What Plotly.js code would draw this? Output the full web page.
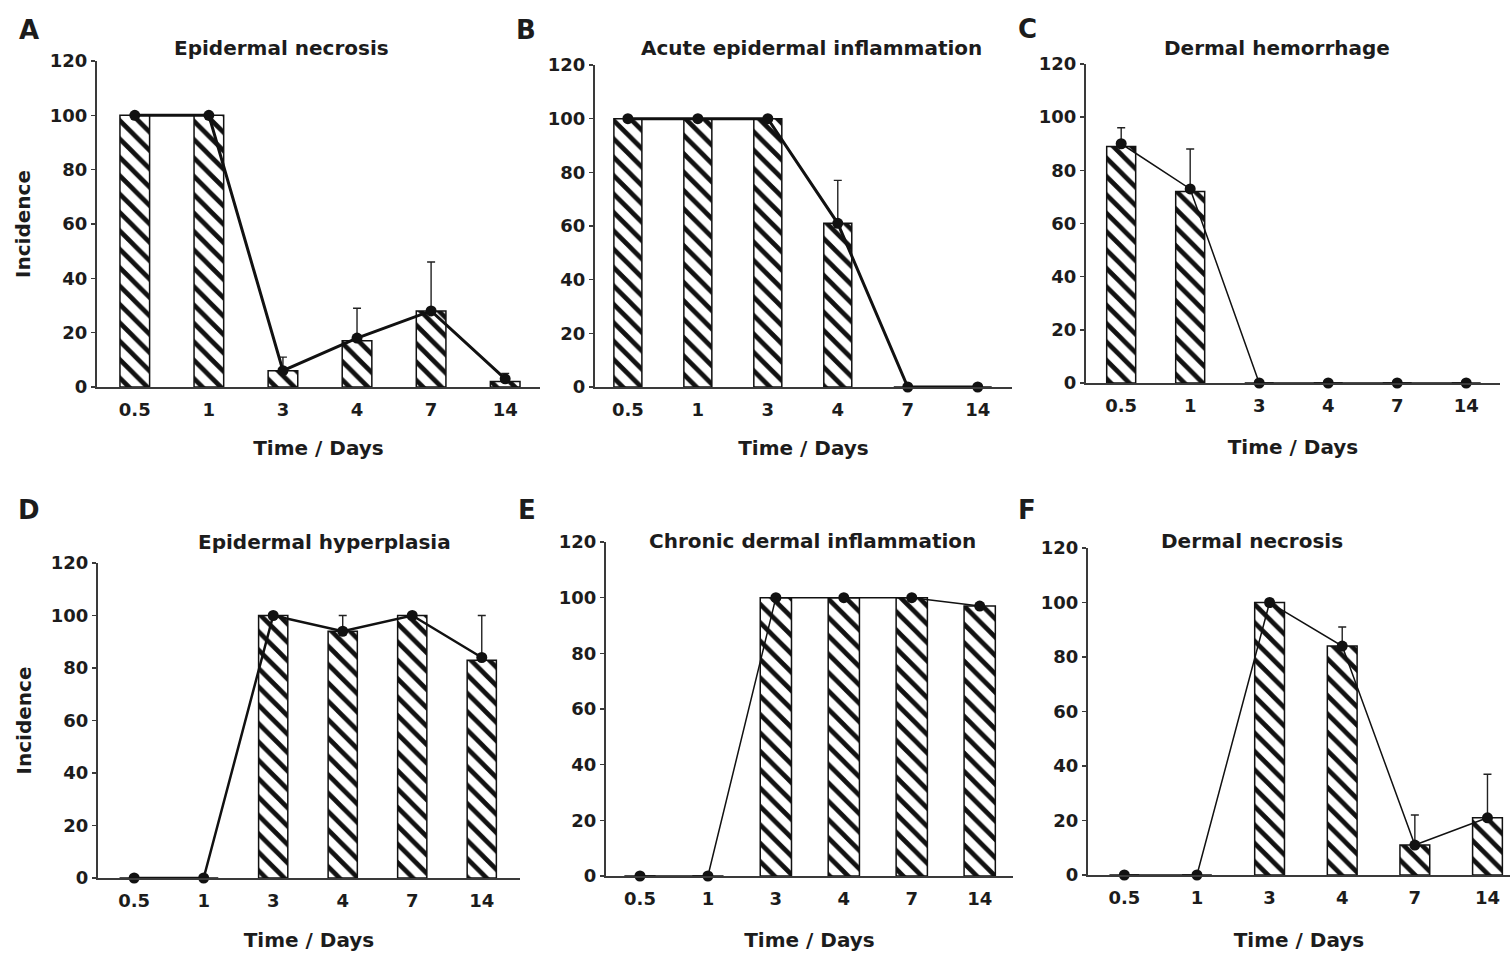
<!DOCTYPE html>
<html>
<head>
<meta charset="utf-8">
<script src="https://cdn.plot.ly/plotly-3.0.1.min.js"></script>
<style>html,body{margin:0;padding:0;background:#fff;}#chart{width:1510px;height:954px;}</style>
</head>
<body>
<div id="chart"></div>
<script>
// ---- data ----
const days = ['0.5', '1', '3', '4', '7', '14'];
const yTicks = [0, 20, 40, 60, 80, 100, 120];

const panelLetters = ['A', 'B', 'C', 'D', 'E', 'F'];
const panelTitles = ['Epidermal necrosis', 'Acute epidermal inflammation', 'Dermal hemorrhage',
                     'Epidermal hyperplasia', 'Chronic dermal inflammation', 'Dermal necrosis'];

const barsA = [100, 100, 6, 17, 28, 2];
const pointsA = [100, 100, 6, 18, 28, 3];
const errA = [0, 0, 5, 11, 18, 2];

const barsB = [100, 100, 100, 61, 0, 0];
const pointsB = [100, 100, 100, 61, 0, 0];
const errB = [0, 0, 0, 16, 0, 0];

const barsC = [89, 72, 0, 0, 0, 0];
const pointsC = [90, 73, 0, 0, 0, 0];
const errC = [6, 15, 0, 0, 0, 0];

const barsD = [0, 0, 100, 94, 100, 83];
const pointsD = [0, 0, 100, 94, 100, 84];
const errD = [0, 0, 0, 6, 0, 16];

const barsE = [0, 0, 100, 100, 100, 97];
const pointsE = [0, 0, 100, 100, 100, 97];
const errE = [0, 0, 0, 0, 0, 0];

const barsF = [0, 0, 100, 84, 11, 21];
const pointsF = [0, 0, 100, 84, 11, 21];
const errF = [0, 0, 0, 7, 11, 16];

const seriesBars = [barsA, barsB, barsC, barsD, barsE, barsF];
const seriesPoints = [pointsA, pointsB, pointsC, pointsD, pointsE, pointsF];
const seriesErr = [errA, errB, errC, errD, errE, errF];

// ---- layout (pixel geometry) ----
const W = 1510, H = 954;
const FONT = 'DejaVu Sans';
const TXT = '#1c1c1c';
// [xLeft, xRight, yTop, yBottom, rangeLo, rangeHi, lineWidth, barWidth, xTitleStandoff]
const geom = [
  [97, 540, 61, 387, -0.51, 5.47, 3, 0.40, 22],
  [595, 1012, 65, 387, -0.47, 5.49, 3, 0.40, 22],
  [1086, 1500, 64, 383, -0.51, 5.49, 1.5, 0.42, 25],
  [98, 520, 563, 878, -0.52, 5.55, 2.5, 0.42, 23],
  [606, 1013, 542, 876, -0.50, 5.49, 1.5, 0.46, 25],
  [1088, 1510, 548, 875, -0.50, 5.31, 1.5, 0.41, 26]
];
const titlePos = [[281, 48], [811, 48], [1277, 48], [324, 542], [812, 541], [1252, 541]];
const letterPos = [[29, 30], [526, 30], [1027, 29], [29, 510], [527, 510], [1027, 510]];

const px = x => x / W;
const py = y => 1 - y / H;

const traces = [];
const layout = {
  width: W, height: H,
  margin: {l: 0, r: 0, t: 0, b: 0},
  paper_bgcolor: '#fff', plot_bgcolor: 'rgba(0,0,0,0)',
  showlegend: false,
  font: {family: FONT, color: TXT, size: 18, weight: 'bold'},
  annotations: [],
  bargap: 0
};

for (let i = 0; i < 6; i++) {
  const g = geom[i];
  const n = i + 1;
  const xa = n === 1 ? 'x' : 'x' + n;
  const ya = n === 1 ? 'y' : 'y' + n;
  traces.push({
    type: 'bar', x: days, y: seriesBars[i], xaxis: xa, yaxis: ya,
    width: g[7],
    marker: {
      color: '#fff',
      line: {color: '#111', width: 1.5},
      pattern: {shape: '\\', fgcolor: '#111', bgcolor: '#fff', size: 13, solidity: 0.36, fillmode: 'replace'}
    },
    hoverinfo: 'skip'
  });
  traces.push({
    type: 'scatter', mode: 'lines+markers', x: days, y: seriesPoints[i], xaxis: xa, yaxis: ya,
    line: {color: '#111', width: g[6]},
    marker: {color: '#111', size: 11},
    error_y: {type: 'data', symmetric: false, array: seriesErr[i], arrayminus: days.map(() => 0),
              color: '#222', thickness: 1.4, width: 4},
    cliponaxis: false,
    hoverinfo: 'skip'
  });
  const xKey = n === 1 ? 'xaxis' : 'xaxis' + n;
  const yKey = n === 1 ? 'yaxis' : 'yaxis' + n;
  layout[xKey] = {
    domain: [px(g[0]), px(g[1])], anchor: ya, type: 'category',
    categoryorder: 'array', categoryarray: days,
    range: [g[4], g[5]], showgrid: false, zeroline: false,
    showline: true, linecolor: '#3a3a3a', linewidth: 2, layer: 'above traces',
    ticks: '', ticklabelstandoff: 5,
    tickfont: {family: FONT, size: 18, color: TXT, weight: 'bold'},
    title: {text: 'Time / Days', font: {family: FONT, size: 20, color: TXT, weight: 'bold'}, standoff: g[8]},
    fixedrange: true
  };
  layout[yKey] = {
    domain: [py(g[3]), py(g[2])], anchor: xa,
    range: [0, 120], tickvals: yTicks, showgrid: false, zeroline: false,
    showline: true, linecolor: '#3a3a3a', linewidth: 2,
    ticks: 'outside', ticklen: 4, tickwidth: 1.5, tickcolor: '#3a3a3a',
    tickfont: {family: FONT, size: 18, color: TXT, weight: 'bold'},
    fixedrange: true
  };
  if (n === 1 || n === 4) {
    layout[yKey].title = {text: 'Incidence', font: {family: FONT, size: 20, color: TXT, weight: 'bold'}, standoff: 14};
  }
  layout.annotations.push({
    text: panelTitles[i], xref: 'paper', yref: 'paper', x: px(titlePos[i][0]), y: py(titlePos[i][1]),
    xanchor: 'center', yanchor: 'middle', showarrow: false,
    font: {family: FONT, size: 20, color: TXT, weight: 'bold'}
  });
  layout.annotations.push({
    text: panelLetters[i], xref: 'paper', yref: 'paper', x: px(letterPos[i][0]), y: py(letterPos[i][1]),
    xanchor: 'center', yanchor: 'middle', showarrow: false,
    font: {family: FONT, size: 26, color: TXT, weight: 'bold'}
  });
}

Plotly.newPlot('chart', traces, layout, {staticPlot: true, displayModeBar: false});
</script>
</body>
</html>
